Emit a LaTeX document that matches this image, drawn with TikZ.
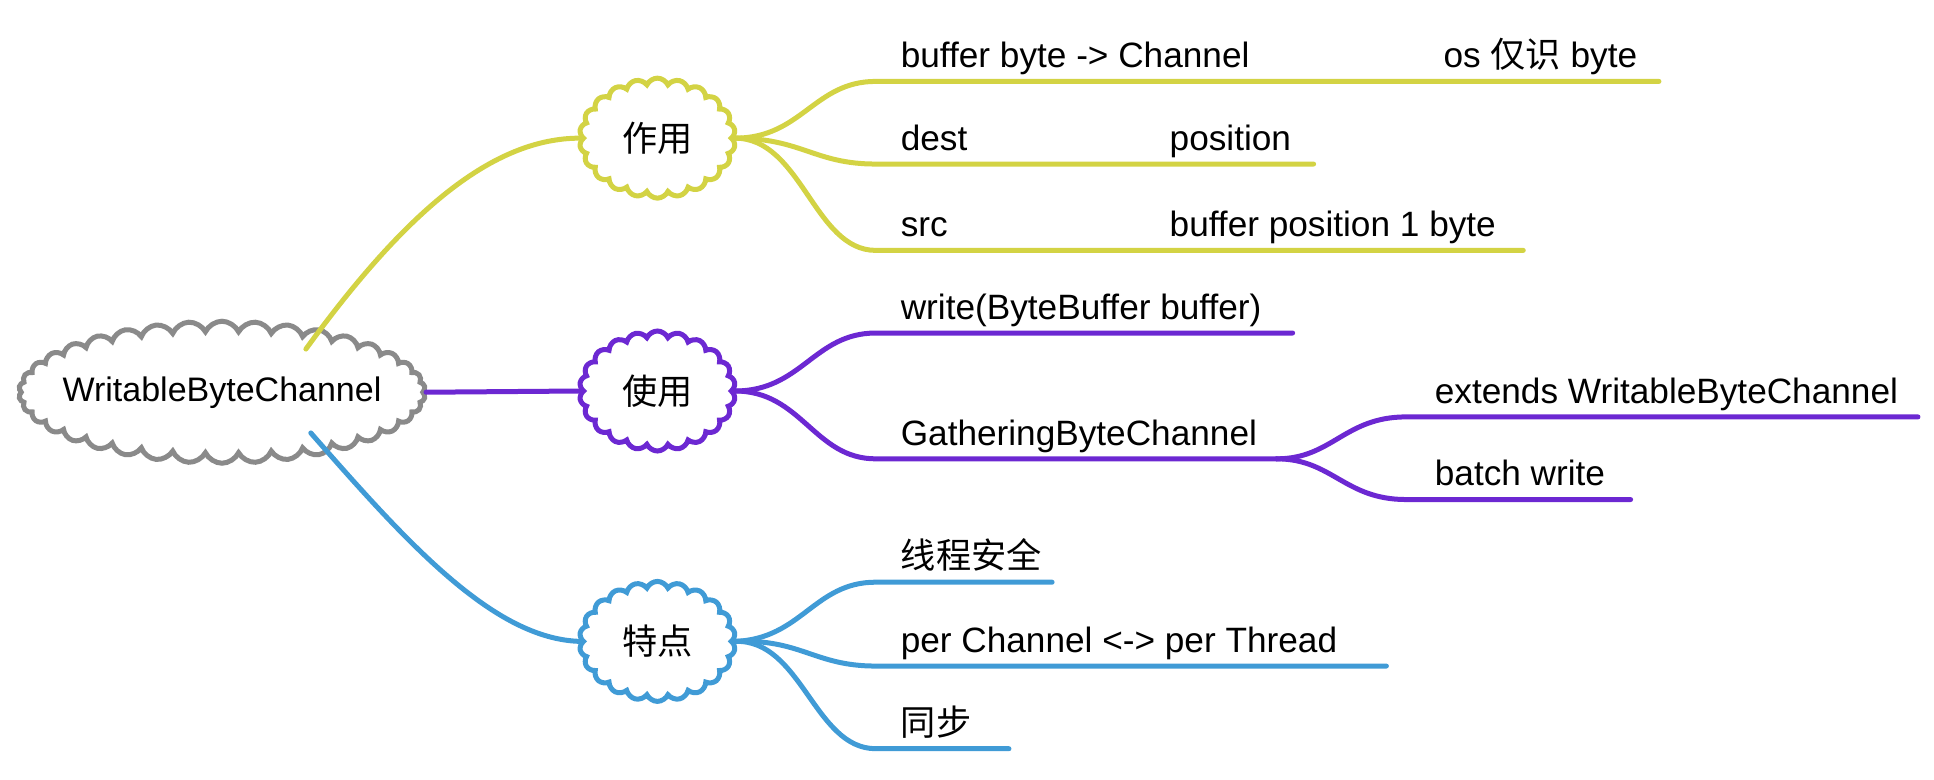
\documentclass[tikz,border=0pt]{standalone}
\usepackage{fontspec}
\setmainfont{Liberation Sans}
\newfontfamily\cjk{Noto Sans CJK SC}
\usetikzlibrary{shapes.symbols}

\definecolor{yel}{RGB}{211,211,68}
\definecolor{pur}{RGB}{108,40,210}
\definecolor{blu}{RGB}{64,155,214}
\definecolor{gry}{RGB}{138,138,138}

\tikzset{
  topic/.style={cloud, cloud puffs=22, cloud puff arc=130, cloud ignores aspect, draw, line width=2.5pt,
    fill=white, minimum width=78pt, minimum height=60pt, inner sep=0pt, font=\fontsize{17.6}{20}\selectfont},
  leaf/.style={anchor=base west, inner sep=0pt, font=\fontsize{17.6}{20}\selectfont},
  branch/.style={line width=2.5pt, line cap=round}
}

\begin{document}
\begin{tikzpicture}[x=0.6167pt, y=-0.6167pt]
\useasboundingbox (0,0) rectangle (1568,632);

% Define clouds
\node[topic, draw=gry, cloud puffs=38, inner xsep=-8pt, minimum width=203pt, minimum height=71pt, font=\fontsize{17}{20}\selectfont] (root) at (180,318) {WritableByteChannel};
\node[topic, draw=yel] (zuoyong) at (533,112) {\cjk 作用};
\node[topic, draw=pur] (shiyong) at (533,317) {\cjk 使用};
\node[topic, draw=blu] (tedian) at (533,520) {\cjk 特点};

% Root connectors
\coordinate (rootNE) at (248,283);
\coordinate (rootSE) at (252,351);
\draw[branch, yel] (rootNE) .. controls (330,170) and (400,112) .. (zuoyong.west);
\draw[branch, pur] (root.east) -- (shiyong.west);
\draw[branch, blu] (rootSE) .. controls (330,440) and (400,518) .. (tedian.west);

% Leaves of zuoyong
\coordinate (z1) at (710,66);   \coordinate (z1e) at (1345,66);
\coordinate (z2) at (710,133);  \coordinate (z2e) at (1065,133);
\coordinate (z3) at (710,203);  \coordinate (z3e) at (1235,203);
\draw[branch, yel] (zuoyong.east) .. controls (650,112) and (660,66) .. (z1) -- (z1e);
\draw[branch, yel] (zuoyong.east) .. controls (650,112) and (660,133) .. (z2) -- (z2e);
\draw[branch, yel] (zuoyong.east) .. controls (650,112) and (660,203) .. (z3) -- (z3e);
\node[leaf] (z1a) at (730,55) {buffer byte -{}> Channel};
\node[leaf] (z1b) at (1170,55) {os {\cjk 仅识} byte};
\node[leaf] (z2a) at (730,122) {dest};
\node[leaf] (z2b) at (948,122) {position};
\node[leaf] (z3a) at (730,192) {src};
\node[leaf] (z3b) at (948,192) {buffer position 1 byte};

% Leaves of shiyong
\coordinate (s1) at (710,270);  \coordinate (s1e) at (1048,270);
\coordinate (s2) at (710,372);  \coordinate (s2e) at (1035,372);
\draw[branch, pur] (shiyong.east) .. controls (650,317) and (660,270) .. (s1) -- (s1e);
\draw[branch, pur] (shiyong.east) .. controls (650,317) and (660,372) .. (s2) -- (s2e);
\node[leaf] (s1a) at (730,259) {write(ByteBuffer buffer)};
\node[leaf] (s2a) at (730,361) {GatheringByteChannel};

% Leaves of GatheringByteChannel
\coordinate (g1) at (1140,338); \coordinate (g1e) at (1555,338);
\coordinate (g2) at (1140,405); \coordinate (g2e) at (1322,405);
\draw[branch, pur] (s2e) .. controls (1080,372) and (1090,338) .. (g1) -- (g1e);
\draw[branch, pur] (s2e) .. controls (1080,372) and (1090,405) .. (g2) -- (g2e);
\node[leaf] (g1a) at (1163,327) {extends WritableByteChannel};
\node[leaf] (g2a) at (1163,394) {batch write};

% Leaves of tedian
\coordinate (t1) at (710,472);  \coordinate (t1e) at (853,472);
\coordinate (t2) at (710,540);  \coordinate (t2e) at (1124,540);
\coordinate (t3) at (710,607);  \coordinate (t3e) at (818,607);
\draw[branch, blu] (tedian.east) .. controls (650,518) and (660,472) .. (t1) -- (t1e);
\draw[branch, blu] (tedian.east) .. controls (650,518) and (660,540) .. (t2) -- (t2e);
\draw[branch, blu] (tedian.east) .. controls (650,518) and (660,607) .. (t3) -- (t3e);
\node[leaf] (t1a) at (730,461) {\cjk 线程安全};
\node[leaf] (t2a) at (730,529) {per Channel <-{}> per Thread};
\node[leaf] (t3a) at (730,596) {\cjk 同步};

\end{tikzpicture}
\end{document}
